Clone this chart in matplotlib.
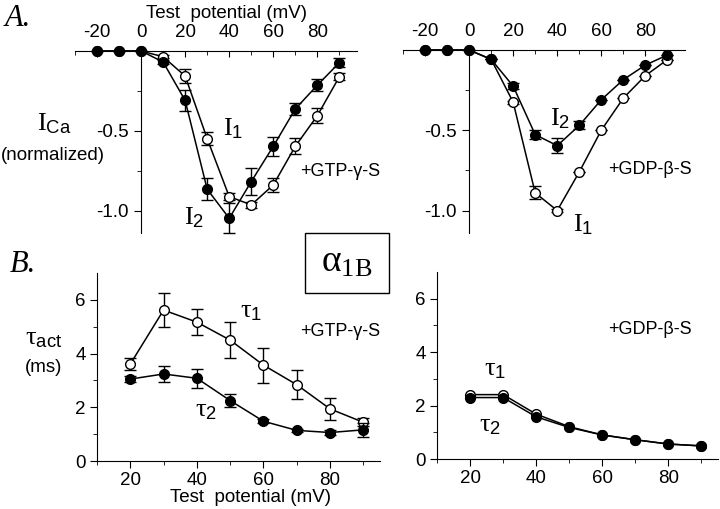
import matplotlib
matplotlib.use("Agg")
import matplotlib.pyplot as plt
from matplotlib.patches import Rectangle
from matplotlib.ticker import MultipleLocator

plt.rcParams['font.family'] = ['Liberation Sans', 'DejaVu Sans']
plt.rcParams['axes.unicode_minus'] = False
plt.rcParams['mathtext.fontset'] = 'custom'
plt.rcParams['mathtext.rm'] = 'Liberation Serif'
plt.rcParams['mathtext.it'] = 'Liberation Serif:italic'
plt.rcParams['mathtext.sf'] = 'Liberation Sans'

# ---- panel A: normalized I-V curves ----
v_iv = [-20, -10, 0, 10, 20, 30, 40, 50, 60, 70, 80, 90]

gtp_i1 = [0, 0, 0, -0.036, -0.157, -0.549, -0.912, -0.964, -0.839, -0.597, -0.405, -0.161]
gtp_i1_err = [0, 0, 0, 0.01, 0.044, 0.04, 0.02, 0.02, 0.044, 0.05, 0.047, 0.023]
gtp_i2 = [0, 0, 0, -0.069, -0.31, -0.866, -1.048, -0.818, -0.597, -0.363, -0.214, -0.073]
gtp_i2_err = [0, 0, 0, 0.015, 0.068, 0.068, 0.094, 0.087, 0.059, 0.04, 0.037, 0.03]

gdp_i1 = [0, 0, 0, -0.058, -0.325, -0.89, -1.0, -0.76, -0.5, -0.3, -0.16, -0.06]
gdp_i1_err = [0, 0, 0, 0.0, 0.01, 0.04, 0.01, 0.0, 0.0, 0.0, 0.0, 0.0]
gdp_i2 = [0, 0, 0, -0.058, -0.225, -0.527, -0.596, -0.47, -0.31, -0.185, -0.094, -0.031]
gdp_i2_err = [0, 0, 0, 0.0, 0.02, 0.03, 0.045, 0.025, 0.0, 0.0, 0.0, 0.0]

# ---- panel B: activation time constants ----
v_tau = [20, 30, 40, 50, 60, 70, 80, 90]

gtp_tau1 = [3.61, 5.62, 5.17, 4.5, 3.57, 2.84, 1.94, 1.44]
gtp_tau1_err = [0.21, 0.64, 0.49, 0.66, 0.65, 0.54, 0.4, 0.15]
gtp_tau2 = [3.05, 3.24, 3.08, 2.25, 1.48, 1.14, 1.06, 1.16]
gtp_tau2_err = [0.1, 0.31, 0.36, 0.25, 0.08, 0.06, 0.1, 0.25]

gdp_tau1 = [2.41, 2.41, 1.68, 1.21, 0.9, 0.72, 0.56, 0.49]
gdp_tau2 = [2.3, 2.3, 1.58, 1.18, 0.9, 0.72, 0.56, 0.49]

W, H = 720, 509
fig = plt.figure(figsize=(7.2, 5.09), dpi=100)


def rect(x0, y0, x1, y1):
    # pixel box -> figure fraction
    return [x0 / W, 1 - y1 / H, (x1 - x0) / W, (y1 - y0) / H]


def ftext(x, y, s, **kw):
    fig.text(x / W, 1 - y / H, s, ha='center', va='center', **kw)


def draw(ax, x, y, err, filled):
    face = 'black' if filled else 'white'
    ax.errorbar(x, y, yerr=err, color='black', lw=1.1, marker='o', ms=7,
                mfc=face, mec='black', mew=1.0, capsize=4, elinewidth=1.0,
                capthick=1.0, clip_on=False, zorder=4 if filled else 3)


def style_iv(ax):
    ax.set_xlim(-30, 98)
    ax.set_ylim(-1.14, 0)
    ax.spines['left'].set_position(('data', 0))
    ax.spines['bottom'].set_visible(False)
    ax.spines['right'].set_visible(False)
    ax.xaxis.set_ticks_position('top')
    ax.xaxis.set_label_position('top')
    ax.set_xticks([-20, 0, 20, 40, 60, 80])
    ax.xaxis.set_minor_locator(MultipleLocator(10))
    ax.set_yticks([-1.0, -0.5])
    ax.set_yticklabels(['-1.0', '-0.5'])
    ax.set_yticks([-0.75, -0.25], minor=True)
    ax.tick_params(axis='x', which='both', direction='in', labelsize=13.5, pad=7)
    ax.tick_params(axis='x', which='major', length=4)
    ax.tick_params(axis='x', which='minor', length=3)
    ax.tick_params(axis='y', which='both', direction='out', labelsize=13.5, pad=4)
    ax.tick_params(axis='y', which='major', length=5)
    ax.tick_params(axis='y', which='minor', length=3)
    ax.patch.set_alpha(0)


def style_tau(ax):
    ax.set_xlim(10, 95)
    ax.set_ylim(0, 7)
    ax.spines['top'].set_visible(False)
    ax.spines['right'].set_visible(False)
    ax.set_xticks([20, 40, 60, 80])
    ax.xaxis.set_minor_locator(MultipleLocator(10))
    ax.set_yticks([0, 2, 4, 6])
    ax.set_yticks([1, 3, 5], minor=True)
    ax.tick_params(which='both', direction='out', labelsize=13.5, pad=3)
    ax.tick_params(which='major', length=5)
    ax.tick_params(which='minor', length=3)
    ax.patch.set_alpha(0)


# A, GTP-gamma-S
ax1 = fig.add_axes(rect(75, 51, 357, 233))
draw(ax1, v_iv, gtp_i1, gtp_i1_err, False)
draw(ax1, v_iv, gtp_i2, gtp_i2_err, True)
style_iv(ax1)

# A, GDP-beta-S
ax2 = fig.add_axes(rect(403, 50, 685, 233))
draw(ax2, v_iv, gdp_i1, gdp_i1_err, False)
draw(ax2, v_iv, gdp_i2, gdp_i2_err, True)
style_iv(ax2)

# B, GTP-gamma-S
ax3 = fig.add_axes(rect(97, 273, 380, 461))
draw(ax3, v_tau, gtp_tau1, gtp_tau1_err, False)
draw(ax3, v_tau, gtp_tau2, gtp_tau2_err, True)
style_tau(ax3)

# B, GDP-beta-S
ax4 = fig.add_axes(rect(437, 272, 718, 459))
draw(ax4, v_tau, gdp_tau1, None, False)
draw(ax4, v_tau, gdp_tau2, None, True)
style_tau(ax4)

# texts
serif = 'Liberation Serif'
ftext(18, 18, 'A.', family=serif, style='italic', fontsize=22)
ftext(23, 265, 'B.', family=serif, style='italic', fontsize=22)
ftext(226, 14, 'Test  potential (mV)', fontsize=13.5)
ftext(250, 497, 'Test  potential (mV)', fontsize=13.5)

ftext(54, 124, r'$\mathrm{I}_{\mathsf{Ca}}$', fontsize=19)
ftext(53, 155, '(normalized)', fontsize=13.5)
ftext(44, 338, r'$\mathrm{\tau}_{\mathsf{act}}$', fontsize=19)
ftext(44, 367, '(ms)', fontsize=13.5)

ftext(233, 129, r'$\mathrm{I}_{\mathsf{1}}$', fontsize=19)
ftext(194, 218, r'$\mathrm{I}_{\mathsf{2}}$', fontsize=19)
ftext(340, 171, '+GTP-γ-S', fontsize=13)
ftext(560, 119, r'$\mathrm{I}_{\mathsf{2}}$', fontsize=19)
ftext(583, 225, r'$\mathrm{I}_{\mathsf{1}}$', fontsize=19)
ftext(650, 170, '+GDP-β-S', fontsize=13)

ftext(251, 311, r'$\mathrm{\tau}_{\mathsf{1}}$', fontsize=19)
ftext(206, 410, r'$\mathrm{\tau}_{\mathsf{2}}$', fontsize=19)
ftext(340, 331, '+GTP-γ-S', fontsize=13)
ftext(495, 369, r'$\mathrm{\tau}_{\mathsf{1}}$', fontsize=19)
ftext(490, 425, r'$\mathrm{\tau}_{\mathsf{2}}$', fontsize=19)
ftext(650, 330, '+GDP-β-S', fontsize=13)

fig.patches.append(Rectangle((305 / W, 1 - 293 / H), 84 / W, 60 / H,
                             transform=fig.transFigure, fill=False,
                             edgecolor='black', lw=1.0))
ftext(347, 262, r'$\mathrm{\alpha}_{\mathrm{1B}}$', fontsize=27)

fig.savefig('out.png', dpi=100)
